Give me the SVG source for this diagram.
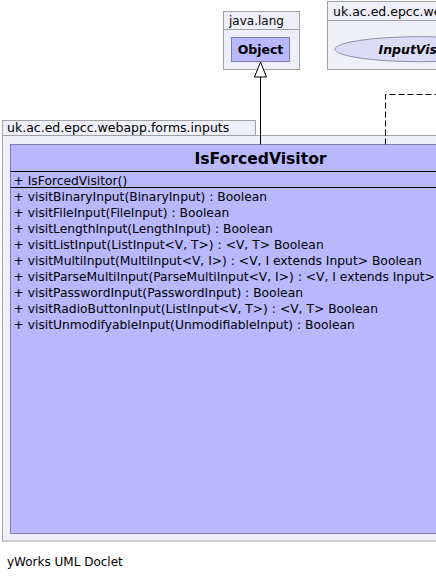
<svg xmlns="http://www.w3.org/2000/svg" width="436" height="579" viewBox="0 0 436 579">
<style>
.pkg{fill:#efeffa;stroke:#a0a0a8;stroke-width:1}
.cls{fill:#b8b8ff;stroke:#7c7cb0;stroke-width:1}
.sep{stroke:#000;stroke-width:1}
.t{font-family:"DejaVu Sans",sans-serif;fill:#000}
.pl{font-size:12px}
.m{font-size:12.3px}
.b{font-weight:bold}
.edge{fill:none;stroke:#000;stroke-width:1}
</style>
<rect width="436" height="579" fill="#fff"/>
<g id="pkg-java-lang">
<rect class="pkg" x="223.5" y="11.5" width="76" height="58"/>
<line x1="223.5" y1="29.5" x2="299.5" y2="29.5" stroke="#a0a0a8"/>
<text class="t pl" x="229" y="25">java.lang</text>
</g>
<g id="Object">
<rect class="cls" x="231.5" y="37.5" width="58" height="24"/>
<text class="t b" x="260.5" y="54" font-size="12.5" text-anchor="middle">Object</text>
</g>
<g id="pkg-right">
<rect class="pkg" x="327.5" y="1.5" width="140" height="68"/>
<line x1="327.5" y1="20.5" x2="467.5" y2="20.5" stroke="#a0a0a8"/>
<text class="t" x="333" y="16" font-size="12.5">uk.ac.ed.epcc.we</text>
</g>
<g id="InputVisitor">
<ellipse cx="420" cy="49.2" rx="85" ry="12.5" fill="#dcdcf6" stroke="#9090a0"/>
<text class="t b" x="378.5" y="54" font-size="12.5" font-style="italic">InputVis</text>
</g>
<g id="pkg-inputs">
<rect class="pkg" x="2.5" y="120.5" width="253" height="15"/>
<text class="t" x="7" y="132" font-size="12.5">uk.ac.ed.epcc.webapp.forms.inputs</text>
<rect class="pkg" x="2.5" y="135.5" width="520" height="405.5"/>
</g>
<g id="IsForcedVisitor">
<rect class="cls" x="10.5" y="144.5" width="500" height="389"/>
<text class="t b" x="260.5" y="164" font-size="15.6" text-anchor="middle">IsForcedVisitor</text>
<line class="sep" x1="10.5" y1="171.5" x2="510.5" y2="171.5"/>
<text class="t m" x="13.5" y="185">+ IsForcedVisitor()</text>
<line class="sep" x1="10.5" y1="187.5" x2="510.5" y2="187.5"/>
<text class="t m" x="13.5" y="200.5">+ visitBinaryInput(BinaryInput) : Boolean</text>
<text class="t m" x="13.5" y="216.5">+ visitFileInput(FileInput) : Boolean</text>
<text class="t m" x="13.5" y="232.5">+ visitLengthInput(LengthInput) : Boolean</text>
<text class="t m" x="13.5" y="248.5">+ visitListInput(ListInput&lt;V, T&gt;) : &lt;V, T&gt; Boolean</text>
<text class="t m" x="13.5" y="264.5">+ visitMultiInput(MultiInput&lt;V, I&gt;) : &lt;V, I extends Input&gt; Boolean</text>
<text class="t m" x="13.5" y="280.5">+ visitParseMultiInput(ParseMultiInput&lt;V, I&gt;) : &lt;V, I extends Input&gt;</text>
<text class="t m" x="13.5" y="296.5">+ visitPasswordInput(PasswordInput) : Boolean</text>
<text class="t m" x="13.5" y="312.5">+ visitRadioButtonInput(ListInput&lt;V, T&gt;) : &lt;V, T&gt; Boolean</text>
<text class="t m" x="13.5" y="328.5">+ visitUnmodifyableInput(UnmodifiableInput) : Boolean</text>
</g>
<g id="connectors">
<line class="edge" x1="260.5" y1="77" x2="260.5" y2="144.5"/>
<polygon points="260.5,62 254.5,77 266.5,77" fill="#fff" stroke="#000"/>
<polyline class="edge" points="385.5,144.5 385.5,94.5 440,94.5" stroke-dasharray="6,3"/>
</g>
<text class="t" x="7" y="566" font-size="12">yWorks UML Doclet</text>
</svg>
